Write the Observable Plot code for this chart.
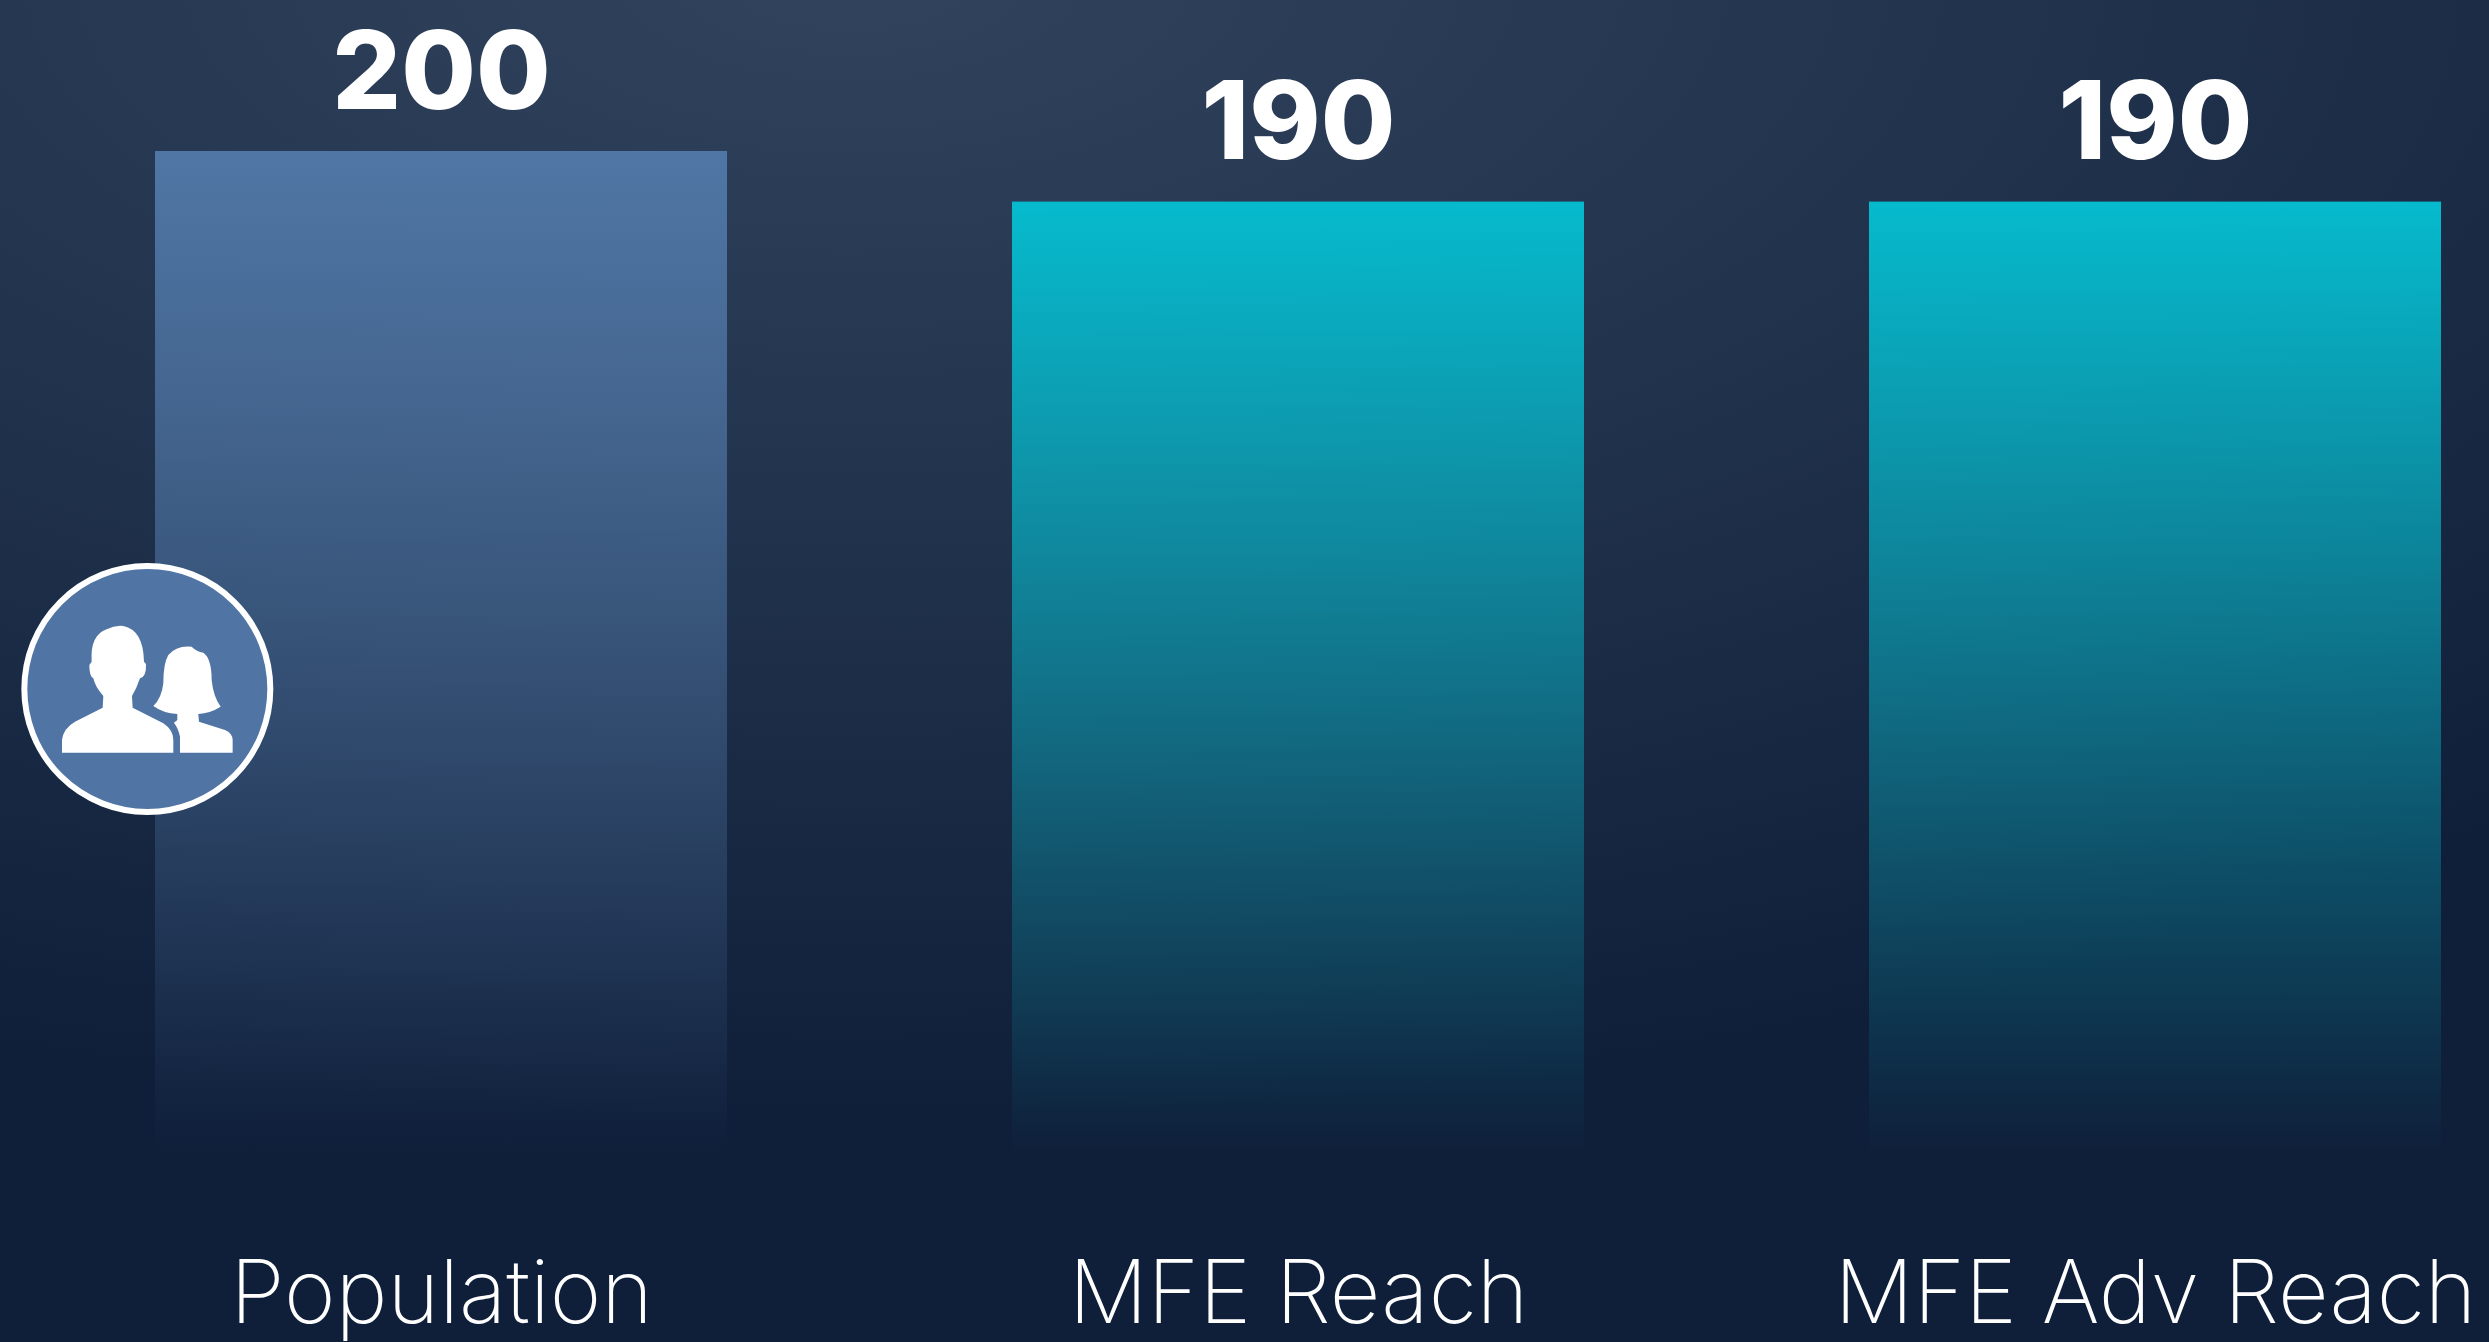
<!DOCTYPE html>
<html>
<head>
<meta charset="utf-8">
<script src="https://cdn.jsdelivr.net/npm/d3@7"></script>
<script src="https://cdn.jsdelivr.net/npm/@observablehq/plot@0.6"></script>
<style>
html,body{margin:0;padding:0;background:#0f1f3a;overflow:hidden}
svg{display:block}
</style>
</head>
<body>
<div id="chart"></div>
<script>
const categories = ["Population", "MFE Reach", "MFE Adv Reach"];
const values = [200, 190, 190];
const gradients = ["url(#gBlue)", "url(#gTeal)", "url(#gTeal)"];
const rows = categories.map((c, i) => ({category: c, value: values[i], fill: gradients[i]}));
const NS = "http://www.w3.org/2000/svg";

function el(name, attrs, parent) {
  const e = document.createElementNS(NS, name);
  for (const k in attrs) e.setAttribute(k, attrs[k]);
  if (parent) parent.appendChild(e);
  return e;
}
function defs() {
  const d = el("defs", {});
  [["gBlue", "#4f76a5"], ["gTeal", "#06bacd"]].forEach(([id, c]) => {
    const g = el("linearGradient", {id, x1: 0, y1: 0, x2: 0, y2: 1}, d);
    el("stop", {offset: "0%", "stop-color": c, "stop-opacity": 1}, g);
    el("stop", {offset: "99%", "stop-color": c, "stop-opacity": 0}, g);
  });
  return d;
}
function badge() {
  const g = el("g", {transform: "translate(0,540) scale(0.3333)"});
  el("circle", {cx: 442, cy: 447, r: 369, fill: "#5075a5", stroke: "#fff", "stroke-width": 18}, g);
  el("path", {fill: "#fff", d: "M186 638 L186 600 Q190 565 225 545 L308 503 L310 468 Q285 440 280 415 Q268 410 268 375 L275 365 Q270 285 320 268 Q345 255 370 258 Q430 270 432 365 L438 372 Q440 410 420 415 Q410 445 396 468 L398 503 L490 550 Q520 570 520 600 L520 638 Z"}, g);
  el("path", {fill: "#fff", d: "M460 498 Q485 475 490 430 Q490 370 505 345 Q530 315 575 320 Q590 335 610 338 Q635 355 635 420 Q640 470 662 500 Q630 520 595 522 L597 545 L675 570 Q698 580 698 600 L698 638 L540 638 L540 590 Q535 565 522 548 L532 540 L532 522 Q490 520 460 498 Z"}, g);
  return g;
}

const chart = Plot.plot({
  width: 2489,
  height: 1342,
  margin: 0,
  style: {
    background: "radial-gradient(ellipse 2500px 1150px at 850px -30px, #32445d 0%, #0f1f3a 100%)",
    fontFamily: "Inter, sans-serif",
    color: "#fff"
  },
  x: {domain: categories, range: [154.5, 2442], paddingInner: 0.332, paddingOuter: 0, label: null, axis: null},
  y: {domain: [0, 200], range: [1163, 151], axis: null},
  marks: [
    defs,
    Plot.barY(rows, {x: "category", y: "value", fill: "fill"}),
    Plot.text(rows, {x: "category", y: "value", text: d => String(d.value), dy: -43, lineAnchor: "bottom", fontSize: 108, fontWeight: 800, fill: "#fff"}),
    Plot.text(rows, {x: "category", y: () => 0, text: "category", dy: 159, lineAnchor: "bottom", fontSize: 88, fontWeight: 200, fill: "#fff"}),
    badge
  ]
});
document.getElementById("chart").appendChild(chart);
</script>
</body>
</html>
